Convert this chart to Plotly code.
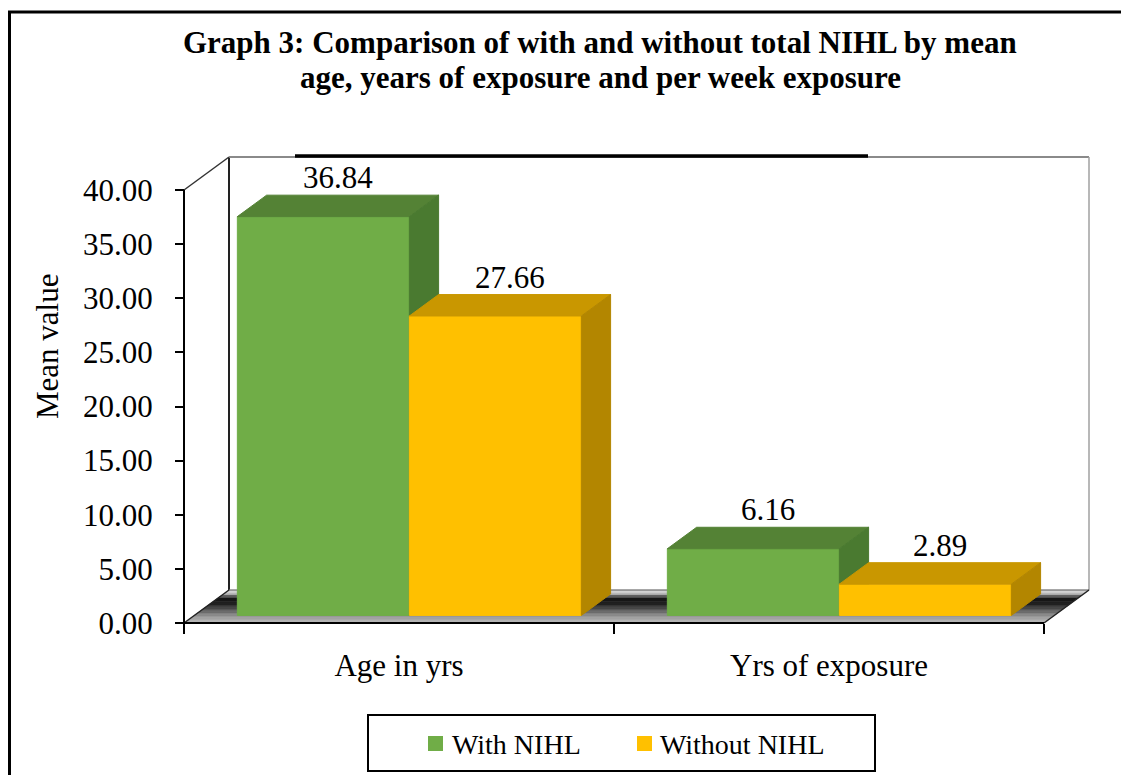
import plotly.graph_objects as go

# ---- data -------------------------------------------------------------
categories = ["Age in yrs", "Yrs of exposure"]
series_names = ["With NIHL", "Without NIHL"]
with_nihl = [36.84, 6.16]
without_nihl = [27.66, 2.89]
y_tick_values = [0, 5, 10, 15, 20, 25, 30, 35, 40]

# ---- styling ----------------------------------------------------------
FONT = "Liberation Serif, Times New Roman, serif"
FRONT_COLORS = ["#70AD47", "#FFC000"]
TOP_COLORS = ["#548235", "#C99700"]
SIDE_COLORS = ["#4A7A30", "#B38600"]

# ---- figure geometry ----------------------------------------------------
W, H = 1121, 775
M_L, M_R, M_T, M_B = 180, 29, 155, 148
PX_PER_CAT = 430.0      # horizontal pixels per category slot
PX_PER_UNIT = 10.825    # vertical pixels per value unit
PAD = 4                 # gap between plot-area edge and the front axes

PLOT_W = W - M_L - M_R
PLOT_H = H - M_T - M_B
X_MIN = -0.5 - PAD / PX_PER_CAT
X_MAX = X_MIN + PLOT_W / PX_PER_CAT
Y_MIN = -PAD / PX_PER_UNIT
Y_MAX = Y_MIN + PLOT_H / PX_PER_UNIT

# oblique projection of the depth direction (full box depth)
DEPTH_DX = 45 / PX_PER_CAT
DEPTH_DY = 33 / PX_PER_UNIT
WALL_TOP = y_tick_values[-1]
X_LEFT = -0.5
X_RIGHT = len(categories) - 0.5

BAR_W = 0.4
BAR_FRONT, BAR_BACK = 0.23, 0.88


def proj(x, d, h):
    """Project a point (x, depth fraction, height) onto the front plane."""
    return x + d * DEPTH_DX, h + d * DEPTH_DY


def px_x(px):
    return (px - M_L) / PLOT_W


def px_y(py):
    return (H - M_B - py) / PLOT_H


fig = go.Figure()


def polygon(points, fill, line_color=None, line_width=1.0):
    xs = [p[0] for p in points] + [points[0][0]]
    ys = [p[1] for p in points] + [points[0][1]]
    fig.add_trace(go.Scatter(
        x=xs, y=ys, mode="lines", fill="toself", fillcolor=fill,
        line=dict(color=line_color or fill, width=line_width),
        hoverinfo="skip", showlegend=False))


def segment(p0, p1, color, width):
    fig.add_trace(go.Scatter(
        x=[p0[0], p1[0]], y=[p0[1], p1[1]], mode="lines",
        line=dict(color=color, width=width),
        hoverinfo="skip", showlegend=False))


# ---- walls --------------------------------------------------------------
polygon([proj(X_LEFT, 1, 0), proj(X_LEFT, 1, WALL_TOP),
         proj(X_RIGHT, 1, WALL_TOP), proj(X_RIGHT, 1, 0)], "#FFFFFF")
polygon([proj(X_LEFT, 0, 0), proj(X_LEFT, 0, WALL_TOP),
         proj(X_LEFT, 1, WALL_TOP), proj(X_LEFT, 1, 0)], "#FFFFFF")

segment(proj(X_LEFT, 1, 0), proj(X_LEFT, 1, WALL_TOP), "#222222", 2)
segment(proj(X_LEFT, 1, WALL_TOP), proj(X_RIGHT, 1, WALL_TOP), "#8A8A8A", 2)
segment(proj(X_RIGHT, 1, WALL_TOP), proj(X_RIGHT, 1, 0), "#A0A0A0", 1.5)
segment(proj(X_LEFT, 0, WALL_TOP), proj(X_LEFT, 1, WALL_TOP), "#333333", 1.5)

# ---- floor (shaded in depth bands) --------------------------------------
floor_bands = [
    (0.00, 0.10, "#B4B4B4"),
    (0.10, 0.20, "#A2A2A2"),
    (0.20, 0.30, "#8A8A8A"),
    (0.30, 0.40, "#6C6C6C"),
    (0.40, 0.52, "#464646"),
    (0.52, 0.65, "#202020"),
    (0.65, 0.78, "#161616"),
    (0.78, 0.86, "#5C5C5C"),
    (0.86, 0.93, "#B8B8B8"),
    (0.93, 1.00, "#D2D2D2"),
]
for d0, d1, col in floor_bands:
    polygon([proj(X_LEFT, d0, 0), proj(X_RIGHT, d0, 0),
             proj(X_RIGHT, d1, 0), proj(X_LEFT, d1, 0)], col, line_width=0.5)

segment(proj(X_LEFT, 1, 0), proj(X_RIGHT, 1, 0), "#5A5A5A", 1)
segment(proj(X_LEFT, 0, 0), proj(X_LEFT, 1, 0), "#222222", 1.5)
segment(proj(X_RIGHT, 0, 0), proj(X_RIGHT, 1, 0), "#222222", 1.5)

# ---- 3-D bars -------------------------------------------------------------
series_values = [with_nihl, without_nihl]
label_font = dict(family=FONT, size=31, color="black")
for ci in range(len(categories)):
    for si, values in enumerate(series_values):
        v = values[ci]
        x0 = ci - BAR_W + si * BAR_W
        x1 = x0 + BAR_W
        f, b = BAR_FRONT, BAR_BACK
        # front face
        polygon([proj(x0, f, 0), proj(x1, f, 0), proj(x1, f, v), proj(x0, f, v)],
                FRONT_COLORS[si])
        # top face
        polygon([proj(x0, f, v), proj(x1, f, v), proj(x1, b, v), proj(x0, b, v)],
                TOP_COLORS[si])
        # right side face
        polygon([proj(x1, f, 0), proj(x1, b, 0), proj(x1, b, v), proj(x1, f, v)],
                SIDE_COLORS[si])
        # value label above the bar
        lx, _ = proj((x0 + x1) / 2, (f + b) / 2, v)
        _, ly = proj(0, b, v)
        fig.add_annotation(x=lx, y=ly, xref="x", yref="y", text=f"{v:.2f}",
                           showarrow=False, yanchor="bottom", yshift=-2,
                           font=label_font)

# ---- front axis lines -----------------------------------------------------
segment((X_LEFT, 0), (X_RIGHT, 0), "black", 2)
segment((X_LEFT, 0), (X_LEFT, WALL_TOP), "black", 2)

# ---- titles ---------------------------------------------------------------
title_font = dict(family=FONT, size=31, color="black")
fig.add_annotation(x=px_x(600), y=px_y(42), xref="paper", yref="paper",
                   text="<b>Graph 3: Comparison of with and without total NIHL by mean</b>",
                   showarrow=False, xanchor="center", yanchor="middle",
                   borderpad=0, font=title_font)
fig.add_annotation(x=px_x(600), y=px_y(77), xref="paper", yref="paper",
                   text="<b>age, years of exposure and per week exposure</b>",
                   showarrow=False, xanchor="center", yanchor="middle",
                   borderpad=0, font=title_font)
fig.add_annotation(x=px_x(47), y=px_y(347), xref="paper", yref="paper",
                   text="Mean value", textangle=-90, showarrow=False,
                   xanchor="center", yanchor="middle",
                   font=dict(family=FONT, size=31, color="black"))

# ---- legend (boxed, horizontal) ---------------------------------------------
legend_items = [(428, 450), (637, 658)]
for (sx, tx), name, col in zip(legend_items, series_names, FRONT_COLORS):
    fig.add_shape(type="rect", xref="paper", yref="paper",
                  x0=px_x(sx), x1=px_x(sx + 15), y0=px_y(751), y1=px_y(736),
                  fillcolor=col, line=dict(width=0))
    fig.add_annotation(x=px_x(tx), y=px_y(744), xref="paper", yref="paper",
                       text=name, showarrow=False, xanchor="left", yanchor="middle",
                       font=dict(family=FONT, size=28, color="black"))
fig.add_shape(type="rect", xref="paper", yref="paper",
              x0=px_x(368), x1=px_x(875), y0=px_y(771), y1=px_y(715),
              line=dict(color="black", width=2), fillcolor="rgba(0,0,0,0)")

# ---- outer frame and rule above the chart ---------------------------------
fig.add_shape(type="rect", xref="paper", yref="paper",
              x0=px_x(9.5), x1=px_x(1140), y0=px_y(800), y1=px_y(12),
              line=dict(color="black", width=3), fillcolor="rgba(0,0,0,0)")
fig.add_shape(type="line", xref="paper", yref="paper",
              x0=px_x(295), x1=px_x(868), y0=px_y(156), y1=px_y(156),
              line=dict(color="black", width=3.5))

# ---- axes -------------------------------------------------------------------
fig.update_layout(
    width=W, height=H,
    margin=dict(l=M_L, r=M_R, t=M_T, b=M_B),
    paper_bgcolor="white", plot_bgcolor="white",
    showlegend=False,
    xaxis=dict(
        range=[X_MIN, X_MAX], tickmode="array",
        tickvals=list(range(len(categories))), ticktext=categories,
        ticks="", showgrid=False, zeroline=False, showline=False,
        anchor="free", position=PAD / PLOT_H,
        ticklabelstandoff=21,
        tickfont=dict(family=FONT, size=31, color="black"),
        minor=dict(tickmode="array",
                   tickvals=[i - 0.5 for i in range(len(categories) + 1)],
                   ticks="outside", ticklen=10, tickwidth=2, tickcolor="black",
                   showgrid=False),
    ),
    yaxis=dict(
        range=[Y_MIN, Y_MAX], tickmode="array", tickvals=y_tick_values,
        ticktext=[f"{v:.2f}" for v in y_tick_values],
        ticks="outside", ticklen=9, tickwidth=2, tickcolor="black",
        showgrid=False, zeroline=False, showline=False,
        anchor="free", position=PAD / PLOT_W,
        ticklabelstandoff=16,
        tickfont=dict(family=FONT, size=31, color="black"),
    ),
)

fig.write_html("out.html")
